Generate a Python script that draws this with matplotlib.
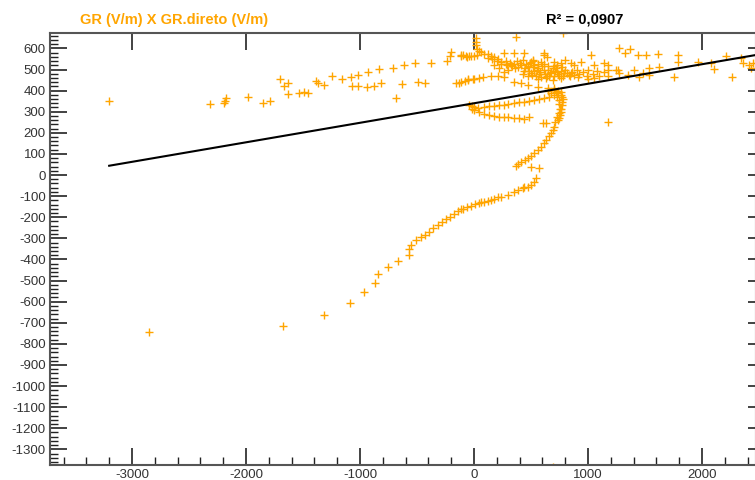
import numpy as np
import matplotlib
matplotlib.use("Agg")
import matplotlib.pyplot as plt
from matplotlib.ticker import MultipleLocator

plt.rcParams['font.family'] = ['Liberation Sans', 'DejaVu Sans']
plt.rcParams['axes.unicode_minus'] = False

# ---- data ----
left_x = [-3200, -2850, -2315, -2175, -2192, -2184, -1982, -1850, -1789, -1701, -1666, -1631, -1631,
          -1535, -1491, -1456, -1386, -1368, -1316, -1245, -1158, -1079, -1017, -1070, -1017, -938,
          -930, -877, -833, -816, -710, -684, -631, -614, -517, -491, -430, -377, -237, -210, -202,
          -132, -114, -96, -53, -9, -60, -30]
left_y = [350, -745, 337, 365, 341, 351, 370, 341, 351, 455, 422, 436, 384,
          389, 393, 389, 446, 436, 427, 469, 455, 465, 474, 422, 422, 417,
          488, 422, 502, 436, 507, 365, 431, 521, 531, 441, 436, 531, 540, 564, 583,
          436, 564, 569, 455, 455, 560, 562]

top_x = [15, 18, 20, 25, 40, 61, 90, 123, 150, 175, 210, 237, 280, 324, 368, 780]
top_y = [648, 632, 615, 598, 590, 585, 575, 572, 565, 559, 548, 536, 528, 521, 654, 675]

cluster_x = [-114, -70, -40, 0, 30, 263, 350, 438, 614, 500, 517, 614, 640, 702, 760, 938, 1026,
             1052, 800, 850, 880,
             412, 450, 480, 520, 550, 580, 600, 620, 650, 680, 700, 720, 740, 760, 780, 800, 820,
             840, 860, 880, 900, 920, 851, 912, 763, 430, 470, 500, 540, 560, 590, 630, 660, 690,
             380, 400, 430, 460, 490, 520, 560, 590, 700, 730, 300, 330, 360, 280, 240, 200, 160,
             120, 180, 220, 260,
             440, 470, 510, 530, 570, 610, 640, 670, 710, 750, 790, 830, 610, 650, 690, 730, 770,
             560, 530, 470, 390, 350, 320, 290]
cluster_y = [569, 566, 563, 562, 568, 578, 578, 578, 578, 536, 545, 569, 560, 536, 530, 536, 569,
             521, 545, 530, 520,
             520, 505, 495, 510, 500, 490, 515, 480, 500, 490, 470, 505, 480, 495, 470, 500, 485,
             470, 490, 475, 500, 480, 483, 465, 460, 480, 470, 485, 470, 455, 465, 460, 470, 450,
             540, 530, 545, 525, 530, 540, 525, 535, 515, 520, 500, 515, 505, 540, 525, 540, 550,
             555, 520, 505, 490,
             495, 510, 475, 495, 480, 500, 470, 485, 495, 470, 485, 475, 525, 515, 505, 490, 510,
             505, 520, 515, 510, 525, 530, 520]

arm_x = [-160, -114, -80, -53, 0, 40, 79, 150, 210, 263, 350, 412, 474, 561, 649, 702]
arm_y = [438, 440, 445, 450, 455, 460, 465, 469, 469, 465, 441, 436, 427, 417, 412, 412]

right_x = [960, 1000, 1040, 1080, 1100, 1140, 1140, 1175, 1175, 1245, 1272, 1263, 1350, 1403,
           1447, 1482, 1535, 1535, 1622, 1754, 1789, 1789, 1614, 1508, 1438, 1368, 1324, 1272,
           1964, 2078, 2105, 2210, 2263, 2341, 2359, 2412, 2430, 2450, 1050, 990, 1180, 1000, 1175]
right_y = [490, 500, 480, 495, 470, 488, 531, 498, 521, 498, 483, 498, 474, 498,
           465, 483, 474, 507, 512, 465, 536, 569, 573, 569, 569, 597, 578, 602,
           536, 531, 502, 564, 465, 555, 531, 521, 505, 530, 460, 470, 470, 455, 251]

hook_x = [-44, -20, 0, 35, 88, 130, 175, 220, 263, 300, 350, 395, 438, 480, 526, 570, 614, 660,
          702, 740, 763,
          650, 700, 720, 740, 680, 760, 770, 780, 775, 770, 765, 760, 755, 745, 737,
          730, 745, 750, 752, 745, 725, 710,
          -20, 0, 40, 88, 130, 175, 220, 263, 300, 350, 395, 438, 482, 605, 631,
          702, 690, 675, 655, 631, 610, 588, 560, 526, 500, 474, 445, 412, 390, 368, 500, 570]
hook_y = [332, 325, 322, 318, 322, 325, 327, 330, 332, 337, 341, 344, 346, 350, 356, 360, 365, 372,
          379, 388, 393,
          400, 405, 395, 400, 390, 380, 370, 360, 345, 330, 315, 300, 285, 270, 261,
          370, 355, 335, 315, 295, 275, 250,
          312, 308, 298, 289, 284, 280, 277, 275, 273, 270, 268, 265, 275, 246, 246,
          228, 215, 199, 183, 166, 150, 133, 118, 104, 92, 81, 72, 62, 52, 43, 38, 33]

tail_x = [544, 526, 500, 470, 438, 430, 390, 350, 298, 237, 210, 175, 150, 123, 90, 61, 44, 10,
          -26, -60, -96, -114, -140, -175, -210, -246, -280, -316, -355, -395, -430, -465, -509,
          -553, -570, -570, -667, -754, -842, -868, -965, -1087, -1316, -1675, 690]
tail_y = [-14, -33, -47, -55, -57, -62, -70, -81, -95, -104, -106, -115, -119, -123, -128, -128,
          -133, -138, -145, -152, -160, -160, -172, -185, -197, -209, -222, -237, -252, -270,
          -282, -294, -308, -332, -351, -379, -408, -436, -469, -512, -555, -607, -664, -716,
          -1385]

fit_slope = 0.0925
fit_intercept = 340.0
fit_x_end = 2474
r2_text = "R\u00b2 = 0,0907"
title_text = "GR (V/m) X GR.direto (V/m)"

x = np.array(left_x + top_x + cluster_x + arm_x + right_x + hook_x + tail_x, dtype=float)
y = np.array(left_y + top_y + cluster_y + arm_y + right_y + hook_y + tail_y, dtype=float)

# ---- figure ----
fig = plt.figure(figsize=(7.55, 4.8), dpi=100)
ax = fig.add_axes([50 / 755, 15 / 480, 706 / 755, 432 / 480])
ax.set_xlim(-3719, 2474)
ax.set_ylim(-1374, 673)

orange = '#FFA500'
ax.plot(x, y, linestyle='none', marker='+', color=orange, markersize=6, markeredgewidth=1.0,
        zorder=2)

fx = np.array([x.min(), fit_x_end])
ax.plot(fx, fit_slope * fx + fit_intercept, color='black', linewidth=1.5, zorder=3)

spine_color = '#555555'
for s in ax.spines.values():
    s.set_color(spine_color)
    s.set_linewidth(1.5)

ax.xaxis.set_major_locator(MultipleLocator(1000))
ax.xaxis.set_minor_locator(MultipleLocator(200))
ax.yaxis.set_major_locator(MultipleLocator(100))
ax.yaxis.set_minor_locator(MultipleLocator(20))

ax.tick_params(axis='x', which='major', direction='in', length=12, width=1.2, color='#222222',
               top=True, bottom=True, labelsize=9.5, labelcolor='#333333', pad=3)
ax.tick_params(axis='x', which='minor', direction='in', length=6, width=1.0, color='#222222',
               top=False, bottom=True)
ax.tick_params(axis='y', which='major', direction='in', length=12, width=1.2, color='#222222',
               left=True, right=False, labelsize=9.5, labelcolor='#333333', pad=3)
ax.tick_params(axis='y', which='minor', direction='in', length=6, width=1.0, color='#222222',
               left=True, right=False)

ax2 = ax.twinx()
ax2.set_ylim(ax.get_ylim())
ax2.yaxis.set_major_locator(MultipleLocator(100))
ax2.tick_params(axis='y', which='major', direction='in', length=6, width=1.2, color='#222222',
                labelright=False)
for s in ax2.spines.values():
    s.set_visible(False)

fig.text(80 / 755, 1 - 20 / 480, title_text, color=orange, fontsize=10.5, fontweight='bold',
         ha='left', va='center')
fig.text(585 / 755, 1 - 20 / 480, r2_text, color='black', fontsize=10.5, fontweight='bold',
         ha='center', va='center')

fig.savefig('out.png', dpi=100)
